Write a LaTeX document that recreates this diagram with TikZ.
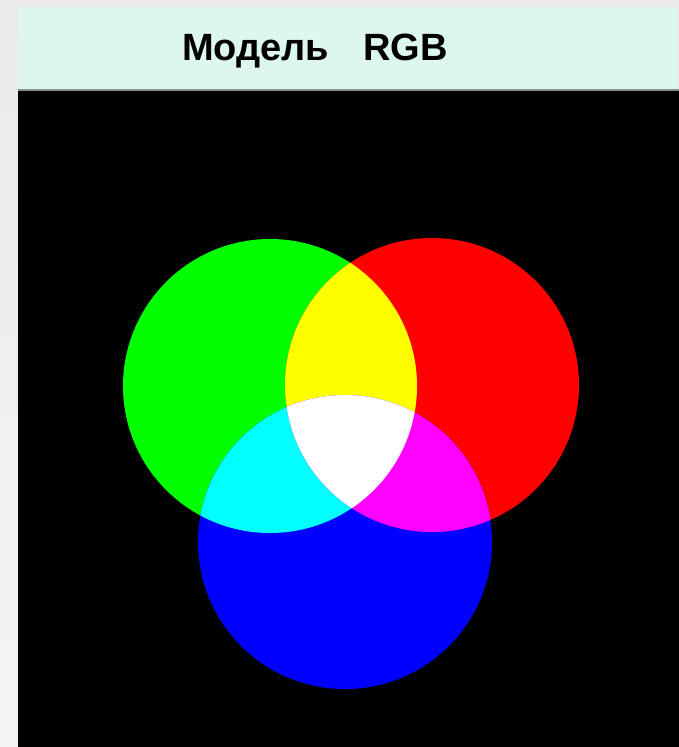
\documentclass[tikz,border=0pt]{standalone}
\usepackage{fontspec}
\setmainfont{Liberation Sans}
\usepackage{xcolor}
\usetikzlibrary{positioning}

\definecolor{framegray}{RGB}{234,234,234}
\definecolor{framegraylow}{RGB}{244,244,244}
\definecolor{hdrmint}{RGB}{221,246,238}
\definecolor{hdrline}{RGB}{128,146,136}
\definecolor{lightR}{RGB}{255,0,0}
\definecolor{lightG}{RGB}{0,255,0}
\definecolor{lightB}{RGB}{0,0,255}
\definecolor{lightRG}{RGB}{255,255,0}
\definecolor{lightGB}{RGB}{0,255,255}
\definecolor{lightRB}{RGB}{255,0,255}
\definecolor{lightRGB}{RGB}{255,255,255}

\begin{document}
\begin{tikzpicture}[
    x = 1pt, y = -1pt,
    title/.style = {
      font = \fontsize{38}{40}\selectfont\bfseries,
      inner sep = 0pt, anchor = base west
    },
    disc/.style = {radius = 147pt}
  ]
    \useasboundingbox (0,0) rectangle (679,747);

    % ── Frame and header ─────────────────────────────────────────────────────
    \fill[framegray] (0,0) rectangle (679,747);
    \shade[top color = framegray, bottom color = framegraylow]
      (0,0) rectangle (18,747);
    \fill[hdrmint] (18,7) rectangle (677,89);
    \fill[hdrline] (18,89) rectangle (679,91);
    \fill[black]   (18,91) rectangle (679,747);

    \node[title] (heading) at (182,60) {Модель\hspace*{34pt}RGB};

    % ── Centres of the three discs ───────────────────────────────────────────
    \coordinate (cg) at (270,386);
    \coordinate (cr) at (432,385);
    \coordinate (cb) at (345,542);

    % ── Primary discs ────────────────────────────────────────────────────────
    \fill[lightG] (cg) circle [disc];
    \fill[lightR] (cr) circle [disc];
    \fill[lightB] (cb) circle [disc];

    % ── Pairwise overlaps ────────────────────────────────────────────────────
    \begin{scope}
      \clip (cg) circle [disc];
      \fill[lightRG] (cr) circle [disc];
    \end{scope}
    \begin{scope}
      \clip (cg) circle [disc];
      \fill[lightGB] (cb) circle [disc];
    \end{scope}
    \begin{scope}
      \clip (cr) circle [disc];
      \fill[lightRB] (cb) circle [disc];
    \end{scope}

    % ── Common overlap ───────────────────────────────────────────────────────
    \begin{scope}
      \clip (cg) circle [disc];
      \clip (cr) circle [disc];
      \fill[lightRGB] (cb) circle [disc];
    \end{scope}
  \end{tikzpicture}
\end{document}
